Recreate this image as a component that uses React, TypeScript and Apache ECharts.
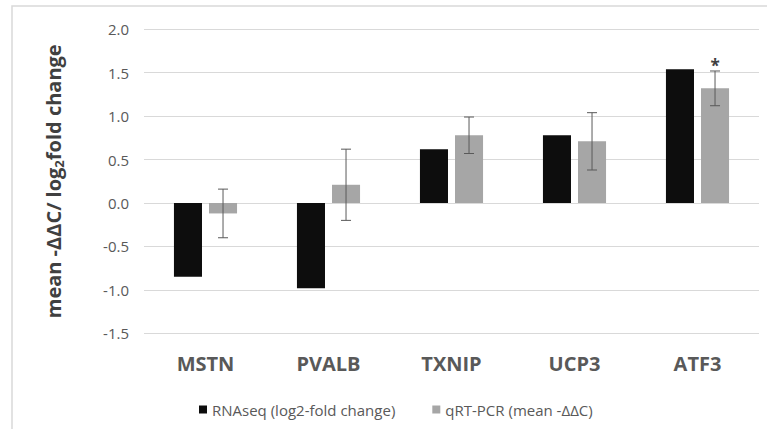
import React, { useEffect, useRef } from "react";
import * as echarts from "echarts";

const categories = ["MSTN", "PVALB", "TXNIP", "UCP3", "ATF3"];
const rnaseq = [-0.85, -0.98, 0.62, 0.78, 1.54];
const qrtpcr = [-0.12, 0.21, 0.78, 0.71, 1.32];
const qrtErr = [0.28, 0.41, 0.21, 0.33, 0.2];
const significance = ["", "", "", "", "*"];
const yTicks = { min: -1.5, max: 2.0, interval: 0.5 };

const FONT = "Open Sans";
const BAR_PCT = 0.228;
const GAP_PCT = 0.25;

export default function App() {
  const ref = useRef<HTMLDivElement>(null);
  useEffect(() => {
    if (!ref.current) return;
    const chart = echarts.init(ref.current, null, { renderer: "svg" });
    const errData = qrtpcr.map((v, i) => [i, v - qrtErr[i], v + qrtErr[i], i]);
    chart.setOption({
      animation: false,
      backgroundColor: "#ffffff",
      textStyle: { fontFamily: FONT },
      graphic: [
        {
          type: "rect",
          shape: { x: 12, y: 6, width: 800, height: 500 },
          style: { fill: "none", stroke: "#d9d9d9", lineWidth: 1.5 },
          silent: true,
        },
      ],
      grid: { left: 144, right: 8, top: 29.3, bottom: 95.7 },
      legend: {
        left: 194,
        top: 397,
        itemWidth: 8,
        itemHeight: 8,
        itemGap: 37,
        icon: "rect",
        textStyle: { fontFamily: FONT, fontSize: 15, color: "#595959" },
        data: ["RNAseq (log2-fold change)", "qRT-PCR (mean -ΔΔC)"],
      },
      xAxis: {
        type: "category",
        data: categories,
        axisLine: { show: false },
        axisTick: { show: false },
        axisLabel: {
          fontFamily: FONT,
          fontSize: 20,
          fontWeight: "bold",
          color: "#595959",
          margin: 20,
        },
      },
      yAxis: {
        type: "value",
        min: yTicks.min,
        max: yTicks.max,
        interval: yTicks.interval,
        axisLine: { show: false },
        axisTick: { show: false },
        splitLine: { lineStyle: { color: "#d9d9d9", width: 1 } },
        axisLabel: {
          fontFamily: FONT,
          fontSize: 15,
          color: "#595959",
          margin: 15,
          formatter: (v: number) => v.toFixed(1),
        },
        name: "mean -ΔΔC/ log{sub|2}fold change",
        nameLocation: "middle",
        nameGap: 79,
        nameRotate: 90,
        nameTextStyle: {
          fontFamily: FONT,
          fontSize: 20,
          fontWeight: "bold",
          color: "#404040",
          rich: {
            sub: {
              fontFamily: FONT,
              fontSize: 13,
              fontWeight: "bold",
              color: "#404040",
              verticalAlign: "bottom",
              padding: [10, 0, 0, 0],
            },
          },
        },
      },
      series: [
        {
          name: "RNAseq (log2-fold change)",
          type: "bar",
          data: rnaseq,
          barWidth: BAR_PCT * 100 + "%",
          barGap: GAP_PCT * 100 + "%",
          itemStyle: { color: "#0d0d0d" },
        },
        {
          name: "qRT-PCR (mean -ΔΔC)",
          type: "bar",
          data: qrtpcr,
          barWidth: BAR_PCT * 100 + "%",
          barGap: GAP_PCT * 100 + "%",
          itemStyle: { color: "#a6a6a6" },
        },
        {
          type: "custom",
          data: errData,
          z: 10,
          encode: { x: 0, y: [1, 2] },
          renderItem: (params: any, api: any) => {
            const idx = api.value(0);
            const lo = api.coord([idx, api.value(1)]);
            const hi = api.coord([idx, api.value(2)]);
            const band = api.size([1, 0])[0];
            const bw = band * BAR_PCT;
            const off = (bw + bw * GAP_PCT) / 2;
            const x = lo[0] + off;
            const cap = 5;
            const st = { stroke: "#595959", lineWidth: 1 };
            const children: any[] = [
              { type: "line", shape: { x1: x, y1: lo[1], x2: x, y2: hi[1] }, style: st },
              { type: "line", shape: { x1: x - cap, y1: lo[1], x2: x + cap, y2: lo[1] }, style: st },
              { type: "line", shape: { x1: x - cap, y1: hi[1], x2: x + cap, y2: hi[1] }, style: st },
            ];
            const sig = significance[api.value(3)];
            if (sig) {
              children.push({
                type: "text",
                style: {
                  text: sig,
                  x: x,
                  y: hi[1] + 3,
                  align: "center",
                  verticalAlign: "bottom",
                  fontFamily: FONT,
                  fontSize: 17,
                  fontWeight: "bold",
                  fill: "#404040",
                },
              });
            }
            return { type: "group", children };
          },
        },
      ],
    });
    return () => chart.dispose();
  }, []);
  return (
    <div
      ref={ref}
      style={{ position: "absolute", left: 0, top: 0, width: 767, height: 429 }}
    />
  );
}
